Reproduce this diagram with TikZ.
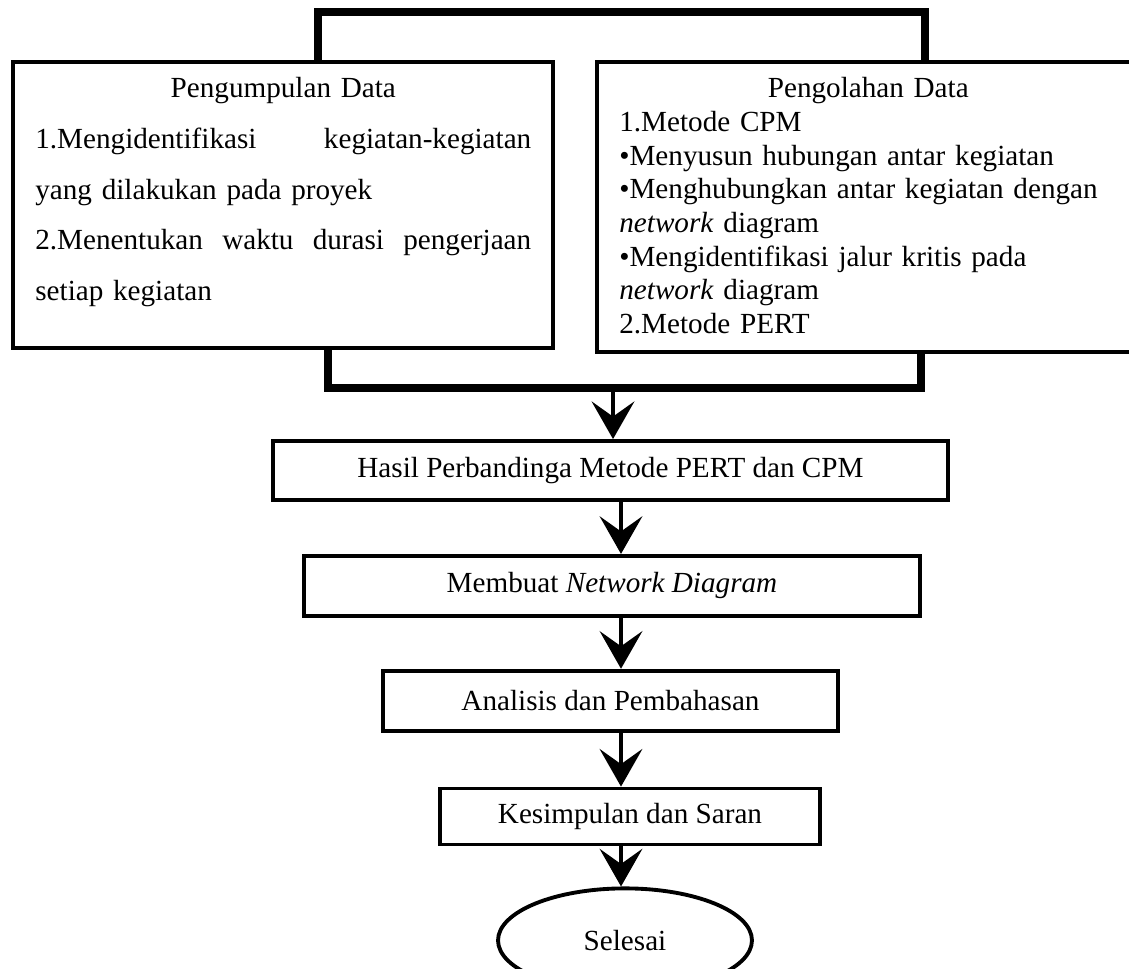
\documentclass[tikz,border=0pt]{standalone}
\usepackage{fontspec}
\setmainfont{Liberation Serif}
\usetikzlibrary{shapes.geometric, arrows.meta, positioning}
\newcommand{\colw}{9.92cm}

\begin{document}
\begin{tikzpicture}[x=0.02cm, y=-0.02cm,
    box/.style={draw, line width=2.2pt, minimum height=1.2cm, font=\fontsize{16.6}{19.2}\selectfont},
    endbox/.style={draw, ellipse, line width=2.2pt, font=\fontsize{16.6}{19.2}\selectfont},
    link/.style={line width=4pt},
    arr/.style={line width=2.8pt, -{Stealth[length=0.75cm, width=0.85cm, inset=0.3cm]}}]
    \useasboundingbox (0,0) rectangle (1129,968);

    % Data boxes
    \node [box, minimum width=10.8cm, minimum height=5.72cm] (collect) at (283,205) {};
    \node [box, minimum width=10.76cm, minimum height=5.8cm] (process) at (866,207) {};

    \node [anchor=north west, inner sep=0, text width=\colw, align=left,
           font=\fontsize{16.6}{28.9}\selectfont] (collecttxt) at (35,77)
      {\makebox[\colw]{Pengumpulan Data}\\
       \makebox[\colw]{1.Mengidentifikasi\hfill kegiatan-kegiatan}\\
       yang dilakukan pada proyek\\
       \makebox[\colw]{2.Menentukan\hfill waktu\hfill durasi\hfill pengerjaan}\\
       setiap kegiatan};
    \node [anchor=north west, inner sep=0, text width=9.96cm, align=left,
           font=\fontsize{16.6}{19.2}\selectfont] (processtxt) at (619,77)
      {\makebox[9.96cm]{Pengolahan Data}\\
       1.Metode CPM\\
       •Menyusun hubungan antar kegiatan\\
       •Menghubungkan antar kegiatan dengan\\
       \textit{network} diagram\\
       •Mengidentifikasi jalur kritis pada\\
       \textit{network} diagram\\
       2.Metode PERT};

    % Brackets
    \coordinate (tl) at (318,12);
    \coordinate (tr) at (925,12);
    \draw [link] (collect.north -| tl) -- (tl) -- (tr) -- (process.north -| tr);
    \coordinate (bl) at (328,388);
    \coordinate (br) at (921,388);
    \draw [link] (collect.south -| bl) -- (bl) -- (br) -- (process.south -| br);
    \coordinate (join) at (613,388);

    % Flow
    \node [box, minimum width=13.5cm, minimum height=1.18cm] (result) at (610.5,470.5) {Hasil Perbandinga Metode PERT dan CPM};
    \node [box, minimum width=12.32cm, below=1.04cm of result, xshift=0.03cm] (network) {Membuat \textit{Network Diagram}};
    \node [box, minimum width=9.1cm, below=1.02cm of network, xshift=-0.03cm] (analysis) {Analisis dan Pembahasan};
    \node [box, minimum width=7.6cm, minimum height=1.12cm, below=1.08cm of analysis, xshift=0.39cm] (summary) {Kesimpulan dan Saran};
    \node [endbox, minimum width=5.08cm, minimum height=2.08cm, below=0.8cm of summary, xshift=-0.1cm] (finish) {Selesai};

    % Arrows
    \coordinate (axis) at (621,0);
    \draw [arr] (join) -- (result.north -| join);
    \foreach \a/\b in {result/network, network/analysis, analysis/summary, summary/finish}
      \draw [arr] (\a.south -| axis) -- (\b.north -| axis);

\end{tikzpicture}
\end{document}
